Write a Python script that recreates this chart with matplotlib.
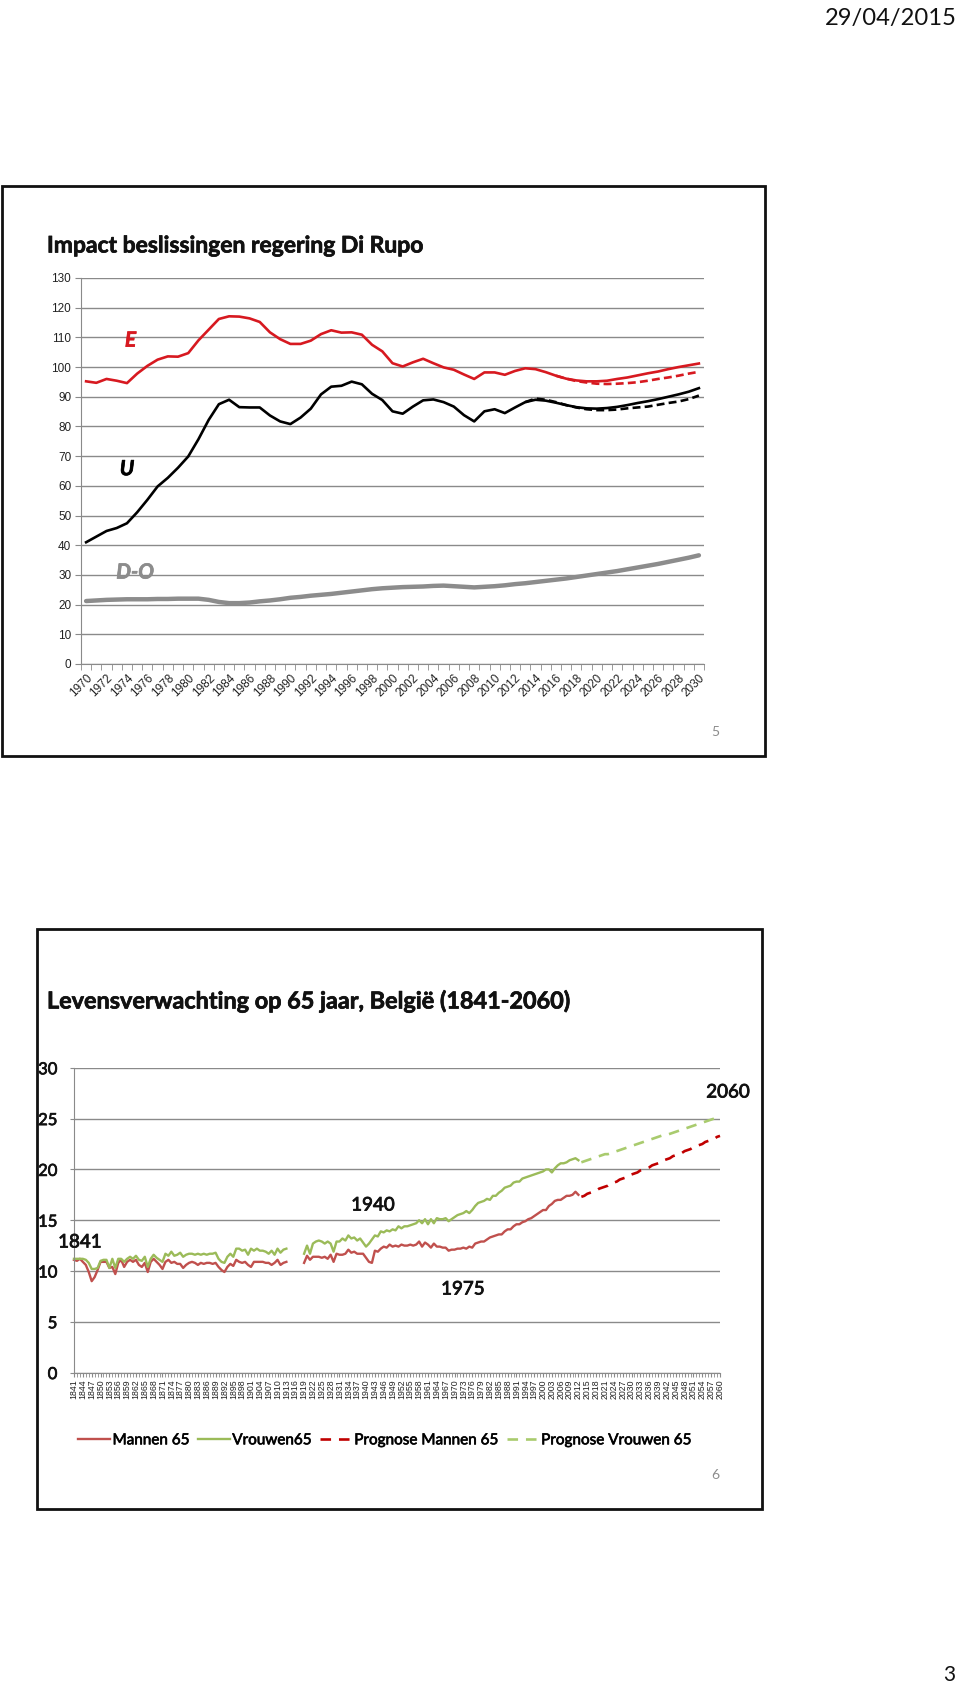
import numpy as np
import matplotlib
matplotlib.use("Agg")
import matplotlib.pyplot as plt
import matplotlib.patheffects as pe
from matplotlib.patches import Rectangle
from matplotlib.ticker import FixedLocator

# ---------------- data: chart 1 ----------------
years_top = list(range(1970, 2031))
E_values = [95.2, 94.7, 96.0, 95.4, 94.6, 97.8, 100.4, 102.5, 103.6, 103.5,
            104.7, 109.0, 112.6, 116.2, 117.1, 117.0, 116.4, 115.2, 111.7, 109.4,
            107.8, 107.8, 108.9, 111.1, 112.4, 111.6, 111.7, 110.9, 107.5, 105.3,
            101.3, 100.2, 101.6, 102.8, 101.3, 99.9, 99.1, 97.5, 96.0, 98.2,
            98.2, 97.4, 98.7, 99.6, 99.3, 98.3, 97.1, 96.1, 95.5, 95.2,
            95.2, 95.4, 96.0, 96.5, 97.2, 97.9, 98.5, 99.3, 100.0, 100.6, 101.2]
E_dash_years = list(range(2016, 2031))
E_dash_values = [97.1, 96.1, 95.3, 94.8, 94.4, 94.3, 94.4, 94.6, 94.9, 95.4,
                 96.0, 96.5, 97.1, 97.8, 98.4]
U_values = [41.0, 42.9, 44.8, 45.8, 47.4, 51.1, 55.3, 59.8, 62.7, 66.1,
            69.9, 75.7, 82.2, 87.5, 89.0, 86.5, 86.4, 86.4, 83.7, 81.7,
            80.8, 83.0, 86.0, 90.8, 93.4, 93.7, 95.1, 94.2, 91.0, 88.9,
            85.1, 84.3, 86.7, 88.8, 89.1, 88.2, 86.7, 83.8, 81.7, 85.1,
            85.8, 84.5, 86.4, 88.2, 89.0, 88.7, 88.0, 87.2, 86.5, 86.1,
            86.0, 86.2, 86.6, 87.2, 87.9, 88.5, 89.2, 90.0, 90.8, 91.7, 92.9]
U_dash_years = list(range(2013, 2031))
U_dash_values = [88.2, 89.4, 89.0, 88.2, 87.2, 86.4, 85.8, 85.5, 85.5, 85.7,
                 86.1, 86.4, 86.7, 87.3, 87.9, 88.4, 89.2, 90.4]
DO_values = [21.2, 21.4, 21.6, 21.7, 21.8, 21.8, 21.8, 21.9, 21.9, 22.0,
             22.0, 22.0, 21.6, 20.9, 20.5, 20.5, 20.7, 21.1, 21.4, 21.8,
             22.3, 22.6, 23.0, 23.3, 23.6, 24.0, 24.4, 24.8, 25.2, 25.5,
             25.7, 25.9, 26.0, 26.1, 26.3, 26.4, 26.2, 26.0, 25.8, 26.0,
             26.2, 26.5, 26.9, 27.2, 27.6, 28.0, 28.4, 28.8, 29.3, 29.8,
             30.3, 30.8, 31.3, 31.9, 32.5, 33.1, 33.7, 34.4, 35.1, 35.8, 36.6]
top_labels = ["E", "U", "D-O"]

# ---------------- data: chart 2 ----------------
years_bottom = list(range(1841, 2061))
nan = float("nan")
mannen = ([11.1, 11.0, 11.2, 10.9, 10.6, 9.9, 9.0, 9.4, 10.1, 10.9,
           10.9, 10.9, 10.3, 10.4, 9.7, 10.8, 11.1, 10.4, 10.9, 11.1,
           10.9, 11.1, 10.6, 10.4, 10.8, 9.9, 10.9, 11.2, 10.9, 10.6,
           10.2, 10.9, 11.1, 10.8, 10.9, 10.7, 10.7, 10.3, 10.6, 10.8,
           10.9, 10.8, 10.6, 10.8, 10.7, 10.8, 10.8, 10.7, 10.8, 10.4,
           10.1, 9.9, 10.4, 10.7, 10.5, 11.1, 10.9, 10.8,
           10.9, 10.6, 10.4, 10.9, 10.9, 10.9, 10.9, 10.8, 10.8, 10.6,
           10.8, 11.1, 10.6, 10.8, 10.9]
          + [nan, nan, nan, nan, nan]
          + [10.8, 11.5, 11.1, 11.4, 11.4, 11.4, 11.3, 11.4, 11.2, 11.6,
             10.9, 11.7, 11.6, 11.6, 11.7, 12.1, 11.8, 11.9, 11.7, 11.7,
             11.7, 11.3, 10.9, 10.8, 12.0, 11.9, 12.2, 12.4, 12.3, 12.6,
             12.4, 12.5, 12.4, 12.6, 12.5, 12.5, 12.6, 12.5, 12.6, 12.9,
             12.4, 12.8, 12.6, 12.3, 12.7, 12.4, 12.4, 12.3, 12.3, 12.0,
             12.1, 12.1, 12.2, 12.2, 12.3, 12.2, 12.4, 12.3, 12.7, 12.8,
             12.9, 12.9, 13.1, 13.3, 13.4, 13.5, 13.6, 13.6, 13.9, 14.1,
             14.1, 14.4, 14.6, 14.6, 14.8, 14.9, 15.1, 15.2, 15.4, 15.6,
             15.8, 16.0, 16.0, 16.4, 16.6, 16.9, 17.0, 17.0, 17.2, 17.4,
             17.4, 17.5, 17.8, 17.5]
          + [nan] * 48)
vrouwen = ([11.2, 11.2, 11.2, 11.2, 11.1, 10.8, 10.2, 10.2, 10.3, 11.0,
            11.1, 11.1, 10.3, 11.2, 10.3, 11.2, 11.2, 10.9, 11.2, 11.4,
            11.2, 11.5, 11.1, 11.0, 11.4, 10.4, 11.2, 11.6, 11.3, 11.1,
            10.9, 11.7, 11.5, 11.9, 11.5, 11.6, 11.8, 11.4, 11.6, 11.7,
            11.7, 11.6, 11.7, 11.6, 11.7, 11.6, 11.7, 11.7, 11.8, 11.2,
            10.9, 10.8, 11.4, 11.7, 11.4, 12.2, 12.2, 12.0,
            12.1, 11.6, 12.2, 12.0, 12.2, 12.0, 12.0, 11.9, 11.7, 12.0,
            11.6, 12.2, 11.8, 12.1, 12.2]
           + [nan, nan, nan, nan, nan]
           + [11.7, 12.5, 11.7, 12.7, 12.9, 13.0, 12.9, 12.7, 12.9, 12.7,
              11.9, 12.9, 12.9, 13.2, 13.0, 13.5, 13.2, 13.3, 13.0, 13.2,
              12.8, 12.4, 12.7, 13.1, 13.5, 13.4, 13.9, 13.8, 14.0, 13.9,
              14.1, 14.0, 14.4, 14.2, 14.4, 14.4, 14.5, 14.6, 14.7, 15.0,
              14.7, 15.1, 14.6, 15.1, 14.7, 15.2, 15.1, 15.1, 15.2, 14.9,
              15.1, 15.3, 15.5, 15.6, 15.7, 15.9, 15.7, 16.0, 16.4, 16.7,
              16.8, 16.9, 17.1, 17.0, 17.4, 17.4, 17.7, 17.9, 18.2, 18.3,
              18.4, 18.7, 18.8, 18.8, 19.1, 19.2, 19.3, 19.4, 19.5, 19.6,
              19.7, 19.8, 20.0, 20.0, 19.7, 20.1, 20.4, 20.6, 20.6, 20.7,
              20.9, 21.0, 21.1, 20.9]
           + [nan] * 48)
prognose_mannen = ([nan] * 172 +
                   [17.3, 17.4, 17.6, 17.7, 17.8, 17.9, 18.1, 18.2, 18.3, 18.4,
                    18.6, 18.7, 18.8, 19.0, 19.1, 19.2, 19.3, 19.5, 19.6, 19.7,
                    19.9, 20.0, 20.1, 20.2, 20.4, 20.5, 20.6, 20.7, 20.9, 21.0,
                    21.1, 21.3, 21.4, 21.5, 21.6, 21.8, 21.9, 22.0, 22.2, 22.3,
                    22.4, 22.5, 22.7, 22.8, 22.9, 23.0, 23.2, 23.3])
prognose_vrouwen = ([nan] * 172 +
                    [20.7, 20.8, 20.9, 21.0, 21.1, 21.2, 21.3, 21.4, 21.5, 21.5,
                     21.6, 21.7, 21.8, 21.9, 22.0, 22.1, 22.2, 22.3, 22.4, 22.5,
                     22.6, 22.7, 22.8, 22.9, 23.0, 23.1, 23.2, 23.3, 23.4, 23.4,
                     23.5, 23.6, 23.7, 23.8, 23.9, 24.0, 24.1, 24.2, 24.3, 24.4,
                     24.5, 24.6, 24.7, 24.8, 24.9, 25.0, 25.0, 25.1])
series_names = ["Mannen 65", "Vrouwen65", "Prognose Mannen 65", "Prognose Vrouwen 65"]
bottom_labels = ["1841", "1940", "1975", "2060"]

# ---------------- figure ----------------
W, H = 960, 1684
fig = plt.figure(figsize=(W / 100, H / 100), dpi=100)
fig.patch.set_facecolor("white")

def fx(px):
    return px / W

def fy(py):
    return 1 - py / H

CAL = ["Lato", "DejaVu Sans"]
ARIAL = ["Liberation Sans", "DejaVu Sans"]
GRID = "#8a8a8a"

def heavy(w, c="#111111"):
    return [pe.withStroke(linewidth=w, foreground=c)]

renderer = fig.canvas.get_renderer()

def fit_text(t, target_w):
    bb = t.get_window_extent(renderer)
    t.set_fontsize(t.get_fontsize() * target_w / bb.width)

# header / footer
t = fig.text(fx(957), fy(25), "29/04/2015", ha="right", va="baseline",
             family=CAL, fontsize=17, color="#111111")
fit_text(t, 132)
fig.text(fx(955), fy(1681), "3", ha="right", va="baseline", family=CAL,
         fontsize=15, color="#111111")

# frames
fig.add_artist(Rectangle((fx(2), fy(756)), fx(763), (756 - 186) / H,
                         transform=fig.transFigure, fill=False, lw=2.0, ec="#111111"))
fig.add_artist(Rectangle((fx(37), fy(1509)), fx(725), (1509 - 929) / H,
                         transform=fig.transFigure, fill=False, lw=2.0, ec="#111111"))

# ---------------- chart 1 ----------------
t = fig.text(fx(47), fy(252.5), "Impact beslissingen regering Di Rupo", ha="left",
             va="baseline", family=CAL, fontweight="bold", fontsize=17, color="#111111",
             path_effects=heavy(0.5))
fit_text(t, 377)

ax1 = fig.add_axes([fx(81), fy(664), (704 - 81) / W, (664 - 278) / H])
ax1.set_xlim(1969.5, 2030.5)
ax1.set_ylim(0, 130)
ax1.set_yticks(range(0, 131, 10))
ax1.yaxis.grid(True, color=GRID, lw=1.0)
ax1.set_axisbelow(True)
for s in ["top", "right"]:
    ax1.spines[s].set_visible(False)
ax1.spines["left"].set_color(GRID)
ax1.spines["bottom"].set_color(GRID)
ax1.tick_params(axis="y", length=4, color=GRID, labelsize=8.5, labelcolor="#222222", pad=3)
ax1.set_xticks(years_top[::2])
ax1.set_xticklabels([str(y) for y in years_top[::2]], rotation=45, ha="right",
                    va="top", rotation_mode="anchor")
ax1.xaxis.set_minor_locator(FixedLocator([y + 0.5 for y in range(1969, 2031)]))
ax1.tick_params(axis="x", which="major", length=0, labelsize=8.5, labelcolor="#222222", pad=6)
ax1.tick_params(axis="x", which="minor", length=4, color=GRID)
for lab in ax1.get_xticklabels() + ax1.get_yticklabels():
    lab.set_family(ARIAL)

ax1.plot(years_top, DO_values, color="#8c8c8c", lw=3.2, solid_capstyle="round")
ax1.plot(E_dash_years, E_dash_values, color="#d71920", lw=1.9, ls=(0, (3, 1.6)))
ax1.plot(years_top, E_values, color="#d71920", lw=1.9)
ax1.plot(U_dash_years, U_dash_values, color="#000000", lw=1.9, ls=(0, (3, 1.6)))
ax1.plot(years_top, U_values, color="#000000", lw=1.9)

ann1 = dict(family=CAL, fontweight="bold", style="italic", fontsize=15,
            ha="center", va="center")
ax1.text(1974.35, 108.9, top_labels[0], color="#d71920",
         path_effects=heavy(0.5, "#d71920"), **ann1)
ax1.text(1974.0, 65.6, top_labels[1], color="#000000",
         path_effects=heavy(0.5, "#000000"), **ann1)
ax1.text(1974.8, 30.8, top_labels[2], color="#8c8c8c",
         path_effects=heavy(0.5, "#8c8c8c"), **ann1)

fig.text(fx(715), fy(736), "5", ha="center", va="baseline", family=CAL,
         fontsize=10, color="#8c8c8c")

# ---------------- chart 2 ----------------
t = fig.text(fx(47), fy(1008.5), "Levensverwachting op 65 jaar, België (1841-2060)",
             ha="left", va="baseline", family=CAL, fontweight="bold", fontsize=18,
             color="#111111", path_effects=heavy(0.5))
fit_text(t, 524)

ax2 = fig.add_axes([fx(74), fy(1372.6), (720 - 74) / W, (1372.6 - 1067.8) / H])
ax2.set_xlim(1841, 2060)
ax2.set_ylim(0, 30)
ax2.set_yticks(range(0, 31, 5))
ax2.yaxis.grid(True, color=GRID, lw=1.0)
ax2.set_axisbelow(True)
for s in ["top", "right"]:
    ax2.spines[s].set_visible(False)
ax2.spines["left"].set_color(GRID)
ax2.spines["bottom"].set_color(GRID)
ax2.tick_params(axis="y", length=3, color=GRID, labelsize=12, labelcolor="#111111", pad=9)
for lab in ax2.get_yticklabels():
    lab.set_family(CAL)
    lab.set_path_effects(heavy(0.5))
ax2.set_xticks(years_bottom[::3])
ax2.set_xticklabels([str(y) for y in years_bottom[::3]], rotation=90, ha="center", va="top")
ax2.xaxis.set_minor_locator(FixedLocator(years_bottom))
ax2.tick_params(axis="x", which="major", length=3, color=GRID, labelsize=6.3,
                labelcolor="#222222", pad=2)
ax2.tick_params(axis="x", which="minor", length=3, color=GRID)
for lab in ax2.get_xticklabels():
    lab.set_family(ARIAL)

yb = np.array(years_bottom)
l1, = ax2.plot(yb, mannen, color="#c0504d", lw=1.7)
l2, = ax2.plot(yb, vrouwen, color="#9bbb59", lw=1.7)
l3, = ax2.plot(yb, prognose_mannen, color="#c00000", lw=1.9, ls=(0, (4, 3)))
l4, = ax2.plot(yb, prognose_vrouwen, color="#a9cb6e", lw=1.9, ls=(0, (4, 3)))
for l in (l1, l2, l3, l4):
    l.set_clip_on(False)

ann = dict(family=CAL, fontsize=13.5, color="#111111", ha="center", va="center",
           path_effects=heavy(0.6))
fig.text(fx(80), fy(1242), bottom_labels[0], **ann)
fig.text(fx(373), fy(1205), bottom_labels[1], **ann)
fig.text(fx(463), fy(1289), bottom_labels[2], **ann)
fig.text(fx(728), fy(1092), bottom_labels[3], **ann)

leg = fig.legend([l1, l2, l3, l4], series_names, loc="center", ncol=4,
                 bbox_to_anchor=(fx(385), fy(1440)), frameon=False,
                 prop=dict(family=CAL, size=12),
                 handlelength=1.9, handletextpad=0.15, columnspacing=0.5)
bb = leg.get_window_extent(renderer)
if bb.width > 0:
    scale = 610 / bb.width
    for txt in leg.get_texts():
        txt.set_fontsize(12 * scale)
        txt.set_path_effects(heavy(0.5))

fig.text(fx(715), fy(1479), "6", ha="center", va="baseline", family=CAL,
         fontsize=10, color="#8c8c8c")

fig.savefig("out.png", dpi=100, facecolor="white")
